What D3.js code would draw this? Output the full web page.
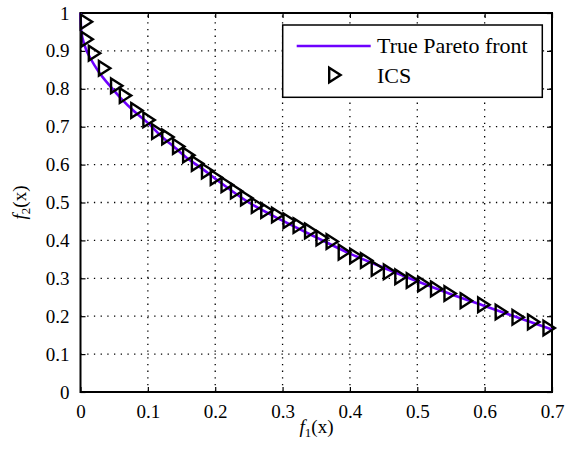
<!DOCTYPE html>
<html>
<head>
<meta charset="utf-8">
<script src="https://cdn.jsdelivr.net/npm/d3@7"></script>
<style>
  body { margin: 0; background: #fff; }
  svg { display: block; }
  svg text { font-family: "Liberation Serif", "Times New Roman", serif !important; }
</style>
</head>
<body>
<svg id="chart" width="566" height="450"></svg>
<script>
// values
const xTicks = [0, 0.1, 0.2, 0.3, 0.4, 0.5, 0.6, 0.7]
const yTicks = [0, 0.1, 0.2, 0.3, 0.4, 0.5, 0.6, 0.7, 0.8, 0.9, 1]

// true Pareto front (f1, f2)
const frontF1 = [0, 0.001, 0.006, 0.015, 0.027, 0.045, 0.06, 0.08, 0.1, 0.12, 0.14, 0.16, 0.18, 0.2,
  0.25, 0.3, 0.35, 0.4, 0.45, 0.5, 0.55, 0.6, 0.65, 0.7]
const frontF2 = [1.0, 0.955, 0.915, 0.88, 0.845, 0.805, 0.775, 0.74, 0.71, 0.675, 0.645, 0.615, 0.59, 0.563,
  0.5, 0.452, 0.408, 0.365, 0.328, 0.292, 0.258, 0.227, 0.196, 0.165]

// ICS solutions
const icsF1 = [0.006, 0.007, 0.018, 0.033, 0.051, 0.064, 0.081, 0.099, 0.112, 0.127,
  0.143, 0.158, 0.171, 0.186, 0.199, 0.215, 0.229, 0.244, 0.260, 0.274,
  0.290, 0.307, 0.322, 0.339, 0.356, 0.371, 0.389, 0.406, 0.422, 0.438,
  0.456, 0.473, 0.490, 0.507, 0.526, 0.546, 0.570, 0.596, 0.622, 0.647,
  0.670, 0.693]
const icsF2 = [0.977, 0.931, 0.894, 0.854, 0.808, 0.782, 0.743, 0.718, 0.687, 0.673,
  0.648, 0.625, 0.603, 0.583, 0.566, 0.547, 0.530, 0.512, 0.492, 0.479,
  0.467, 0.452, 0.439, 0.425, 0.406, 0.397, 0.369, 0.359, 0.347, 0.326,
  0.317, 0.304, 0.294, 0.285, 0.272, 0.260, 0.241, 0.230, 0.211, 0.197,
  0.185, 0.169]

const legendLabels = ["True Pareto front", "ICS"]
const lineColor = "#6e00ff"
const serif = "'Liberation Serif', 'Times New Roman', serif"

const svg = d3.select("#chart").attr("font-family", serif)
const box = { left: 80.5, right: 552, top: 13, bottom: 392 }

const x = d3.scaleLinear().domain([0, 0.7]).range([box.left, box.right])
const y = d3.scaleLinear().domain([0, 1]).range([box.bottom, box.top])

// dotted grid
const grid = svg.append("g").attr("stroke", "#000").attr("stroke-width", 1.3)
  .attr("stroke-dasharray", "1.3,5.4")
grid.selectAll(".gx").data(xTicks.slice(1, -1)).join("line")
  .attr("x1", d => x(d)).attr("x2", d => x(d))
  .attr("y1", box.bottom).attr("y2", box.top)
grid.selectAll(".gy").data(yTicks.slice(1, -1)).join("line")
  .attr("x1", box.left).attr("x2", box.right)
  .attr("y1", d => y(d)).attr("y2", d => y(d))

// axes with inward ticks, mirrored on top/right
const fmt = d => d === 0 || d === 1 ? String(d) : d3.format(".1f")(d)
const axisStyle = g => {
  g.attr("font-family", serif)
  g.select(".domain").remove()
  g.selectAll(".tick line").attr("stroke", "#000").attr("stroke-width", 1.2)
  g.selectAll(".tick text").attr("font-size", "19px").attr("fill", "#000")
}
svg.append("g").attr("transform", `translate(0,${box.bottom})`)
  .call(d3.axisBottom(x).tickValues(xTicks).tickFormat(fmt).tickSizeInner(-5).tickPadding(13))
  .call(axisStyle)
svg.append("g").attr("transform", `translate(${box.left},0)`)
  .call(d3.axisLeft(y).tickValues(yTicks).tickFormat(fmt).tickSizeInner(-5).tickPadding(11))
  .call(axisStyle)
svg.append("g").attr("transform", `translate(0,${box.top})`)
  .call(d3.axisTop(x).tickValues(xTicks).tickFormat("").tickSizeInner(-5))
  .call(axisStyle)
svg.append("g").attr("transform", `translate(${box.right},0)`)
  .call(d3.axisRight(y).tickValues(yTicks).tickFormat("").tickSizeInner(-5))
  .call(axisStyle)

// frame
svg.append("rect")
  .attr("x", box.left).attr("y", box.top)
  .attr("width", box.right - box.left).attr("height", box.bottom - box.top)
  .attr("fill", "none").attr("stroke", "#000").attr("stroke-width", 2)

// true front line
const frontData = frontF1.map((f, i) => [f, frontF2[i]])
const line = d3.line().x(d => x(d[0])).y(d => y(d[1])).curve(d3.curveMonotoneX)
svg.append("path").datum(frontData)
  .attr("d", line)
  .attr("fill", "none").attr("stroke", lineColor).attr("stroke-width", 2.6)

// right-pointing triangle, centroid at origin
const tri = "M-3.8,-7.3L7.6,0L-3.8,7.3Z"
const icsData = icsF1.map((f, i) => [f, icsF2[i]])
svg.append("g").selectAll("path").data(icsData).join("path")
  .attr("d", tri)
  .attr("transform", d => `translate(${x(d[0])},${y(d[1])})`)
  .attr("fill", "none").attr("stroke", "#000").attr("stroke-width", 2.4)
  .attr("stroke-linejoin", "miter")

// legend
const lg = svg.append("g")
lg.append("rect").attr("x", 282.7).attr("y", 25).attr("width", 259.6).attr("height", 72.3)
  .attr("fill", "#fff").attr("stroke", "#000").attr("stroke-width", 1.5)
lg.append("line").attr("x1", 296.7).attr("x2", 370.7).attr("y1", 46).attr("y2", 46)
  .attr("stroke", lineColor).attr("stroke-width", 2.6)
lg.append("path").attr("d", tri).attr("transform", "translate(333,75)")
  .attr("fill", "none").attr("stroke", "#000").attr("stroke-width", 2.4)
lg.selectAll("text").data(legendLabels).join("text")
  .attr("x", 377).attr("y", (d, i) => i === 0 ? 53.3 : 83.3)
  .attr("font-size", "22px").attr("fill", "#000")
  .text(d => d)

// axis labels
const xl = svg.append("text").attr("x", 316.5).attr("y", 433)
  .attr("text-anchor", "middle").attr("font-size", "19px")
xl.append("tspan").attr("font-style", "italic").text("f")
xl.append("tspan").attr("font-size", "13px").attr("dy", 4).text("1")
xl.append("tspan").attr("dy", -4).text("(x)")

const yl = svg.append("text")
  .attr("transform", `translate(26,${(box.top + box.bottom) / 2}) rotate(-90)`)
  .attr("text-anchor", "middle").attr("font-size", "19px")
yl.append("tspan").attr("font-style", "italic").text("f")
yl.append("tspan").attr("font-size", "13px").attr("dy", 4).text("2")
yl.append("tspan").attr("dy", -4).text("(x)")
</script>
</body>
</html>
